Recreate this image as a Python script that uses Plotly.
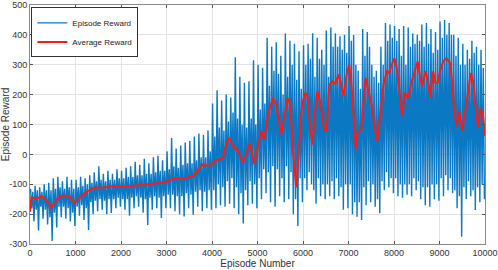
import plotly.graph_objects as go

# Episode reward per 100-episode bin: extreme peak/trough and dense-core top/bottom
bin_start = list(range(0, 10000, 100))
reward_hi = [-115, -105, -110, -100, -95, -80, -75, -90, -75, -85,
             -85, -75, -80, -70, -60, -40, -65, -55, -65, -50,
             -55, -45, -40, -25, -35, -15, -30, -10, -5, -20,
             10, 55, 20, 30, 40, 45, 60, 70, 65, 80,
             170, 215, 180, 200, 190, 325, 260, 240, 245, 315,
             300, 290, 390, 360, 375, 330, 405, 380, 370, 345,
             365, 370, 405, 390, 350, 415, 425, 405, 395, 400,
             430, 400, 280, 420, 410, 300, 280, 360, 440, 435,
             430, 420, 430, 425, 405, 400, 435, 440, 420, 410,
             445, 450, 440, 400, 390, 370, 350, 380, 360, 350]
reward_lo = [-225, -255, -215, -235, -290, -245, -210, -215, -225, -240,
             -205, -220, -253, -200, -190, -185, -200, -196, -180, -175,
             -185, -205, -180, -175, -195, -236, -185, -180, -213, -180,
             -180, -190, -200, -208, -180, -202, -175, -190, -180, -185,
             -180, -170, -175, -165, -180, -200, -231, -170, -165, -180,
             -150, -130, -160, -175, -140, -160, -150, -200, -240, -160,
             -120, -100, -165, -140, -150, -140, -150, -140, -185, -180,
             -200, -209, -220, -170, -160, -175, -197, -120, -110, -130,
             -140, -145, -135, -140, -120, -150, -170, -175, -150, -155,
             -140, -120, -130, -180, -276, -150, -140, -186, -160, -150]
core_hi = [-125, -120, -125, -120, -120, -115, -110, -115, -110, -115,
           -110, -105, -100, -95, -90, -85, -90, -85, -85, -80,
           -80, -75, -75, -70, -70, -65, -65, -60, -55, -55,
           -50, -40, -45, -35, -30, -30, -20, -10, -10, 10,
           60, 90, 80, 110, 140, 120, 100, 90, 120, 100,
           150, 170, 230, 280, 270, 200, 260, 300, 250, 220,
           300, 320, 260, 320, 300, 260, 360, 360, 350, 340,
           380, 300, 220, 330, 360, 260, 240, 300, 380, 390,
           380, 330, 300, 360, 370, 380, 360, 370, 340, 350,
           390, 400, 400, 330, 300, 300, 320, 340, 300, 290]
core_lo = [-180, -185, -175, -185, -210, -195, -175, -175, -180, -195,
           -175, -170, -180, -160, -155, -150, -155, -150, -150, -145,
           -150, -150, -145, -140, -145, -150, -145, -140, -145, -140,
           -135, -135, -140, -140, -130, -135, -125, -120, -125, -120,
           -120, -100, -110, -90, -80, -110, -130, -120, -90, -100,
           -80, -50, -60, -40, -50, -80, -40, -60, -150, -80,
           -80, -60, -120, -80, -100, -100, -90, -80, -110, -100,
           -100, -160, -160, -110, -90, -100, -150, -90, -60, -80,
           -80, -100, -100, -100, -80, -90, -110, -110, -100, -100,
           -80, -70, -80, -120, -140, -110, -90, -120, -110, -100]

# Average reward
avg_episode = [0, 30, 150, 250, 350, 460, 550, 650, 760, 870, 980, 1090, 1240, 1420,
               1640, 1860, 2080, 2300, 2510, 2730, 2950, 3170, 3350, 3440, 3580, 3730,
               3800, 3880, 3985, 4060, 4170, 4240, 4310, 4370, 4460, 4570, 4680, 4750,
               4840, 4930, 5010, 5080, 5150, 5230, 5340, 5410, 5520, 5590, 5660, 5720,
               5770, 5850, 5905, 5980, 6050, 6100, 6150, 6210, 6285, 6320, 6390, 6470,
               6520, 6580, 6640, 6710, 6780, 6830, 6890, 6960, 7015, 7060, 7110, 7160,
               7200, 7280, 7330, 7380, 7440, 7500, 7570, 7630, 7690, 7770, 7840, 7890,
               7950, 8010, 8060, 8120, 8180, 8240, 8310, 8390, 8460, 8520, 8570, 8620,
               8690, 8750, 8800, 8860, 8910, 8960, 9010, 9080, 9150, 9230, 9280, 9320,
               9370, 9430, 9500, 9560, 9630, 9690, 9740, 9790, 9850, 9900, 9960, 10000]
avg_reward = [-192, -145, -148, -141, -152, -179, -160, -140, -138, -142, -163, -145, -125, -112,
              -110, -106, -108, -104, -100, -97, -94, -80, -78, -78, -72, -44,
              -33, -38, -36, -22, -17, -12, 33, 56, 28, 11, -28, 0,
              39, -33, 33, 78, 50, 133, 189, 167, 67, 133, 189, 167,
              33, -111, 22, 167, 206, 194, 100, 33, 178, 211, 167, 78,
              80, 233, 244, 236, 267, 240, 194, 267, 300, 240, 133, 17,
              72, 83, 178, 256, 211, 172, 100, 44, 122, 233, 278, 272,
              300, 322, 289, 200, 128, 206, 189, 244, 278, 311, 261, 228,
              278, 244, 189, 278, 239, 240, 278, 311, 322, 306, 233, 156,
              94, 144, 78, 133, 211, 272, 244, 167, 89, 156, 122, 61]

x_ticks = list(range(0, 10001, 1000))
x_tick_labels = [str(v) for v in x_ticks]
y_ticks = list(range(-300, 501, 100))
y_tick_labels = [str(v) for v in y_ticks]

ep_x, ep_y = [], []
for s, h, cl, ch, l in zip(bin_start, reward_hi, core_lo, core_hi, reward_lo):
    ep_x += [s + 12, s + 37, s + 62, s + 87]
    ep_y += [h, cl, ch, l]

FONT = "Liberation Sans, Arial, sans-serif"

fig = go.Figure()
fig.add_trace(go.Scatter(x=ep_x, y=ep_y, mode="lines", name="Episode Reward",
                         line=dict(color="#0a78c2", width=1.4)))
fig.add_trace(go.Scatter(x=avg_episode, y=avg_reward, mode="lines", name="Average Reward",
                         line=dict(color="#ff1a1a", width=2)))

axis_common = dict(showgrid=True, gridcolor="#e3e3e3", gridwidth=1, zeroline=False,
                   showline=True, linecolor="#8a8a8a", linewidth=1, mirror="ticks",
                   ticks="inside", ticklen=3, tickcolor="#555555", automargin=False,
                   tickfont=dict(family=FONT, size=9, color="#333333"))

fig.update_layout(
    width=498, height=270,
    margin=dict(l=30, r=13, t=5, b=26),
    plot_bgcolor="white", paper_bgcolor="white",
    xaxis=dict(range=[0, 10000], tickvals=x_ticks, ticktext=x_tick_labels,
               title=dict(text="Episode Number", standoff=1,
                          font=dict(family=FONT, size=10, color="#333333")),
               **axis_common),
    yaxis=dict(range=[-300, 500], tickvals=y_ticks, ticktext=y_tick_labels,
               title=dict(text="Episode Reward", standoff=1,
                          font=dict(family=FONT, size=10, color="#333333")),
               **axis_common),
    legend=dict(x=0.003, y=0.99, xanchor="left", yanchor="top",
                bgcolor="white", bordercolor="#333333", borderwidth=1,
                font=dict(family=FONT, size=8, color="#222222"),
                itemwidth=30, tracegroupgap=0),
    showlegend=True,
)

fig.write_html("out.html", config={"displayModeBar": False},
               post_script="document.body.style.margin='0px';")
